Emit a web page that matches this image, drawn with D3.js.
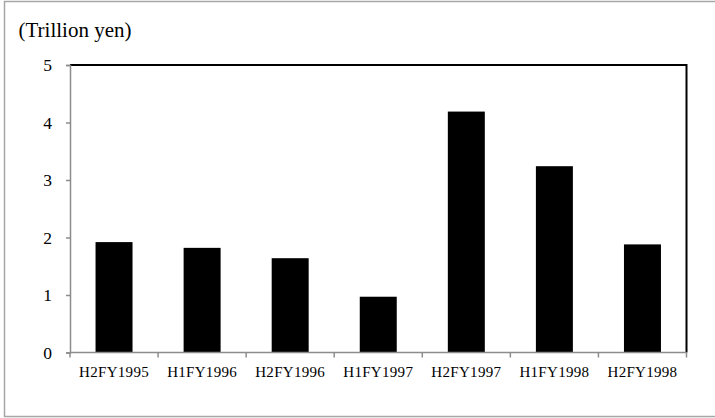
<!DOCTYPE html>
<html>
<head>
<meta charset="utf-8">
<script src="https://cdn.jsdelivr.net/npm/d3@7"></script>
<style>
    html, body { margin: 0; padding: 0; background: #fff; }
    svg { display: block; font-family: "Liberation Serif", "Times New Roman", serif; }
</style>
</head>
<body>
<svg id="chart"></svg>
<script>
// data
const periods = ['H2FY1995', 'H1FY1996', 'H2FY1996', 'H1FY1997', 'H2FY1997', 'H1FY1998', 'H2FY1998'];
const amounts = [1.92, 1.82, 1.64, 0.97, 4.19, 3.24, 1.88];
const yTicks = [0, 1, 2, 3, 4, 5];
const unitLabel = '(Trillion yen)';

const width = 715;
const height = 418;
const margin = {top: 65, right: 28, bottom: 65, left: 70};

const svg = d3.select('#chart')
    .attr('width', width)
    .attr('height', height);

// outer frame
svg.append('rect')
    .attr('x', 4.5)
    .attr('y', 1.5)
    .attr('width', width + 10)
    .attr('height', 415)
    .attr('fill', 'none')
    .attr('stroke', '#a6a6a6')
    .attr('stroke-width', 1.5);

const x = d3.scaleBand()
    .domain(periods)
    .range([margin.left, width - margin.right - 0.5])
    .paddingInner(0.58)
    .paddingOuter(0.29);

const y = d3.scaleLinear()
    .domain([0, 5])
    .range([height - margin.bottom - 0.5, margin.top]);

// bars
svg.append('g')
    .selectAll('rect')
    .data(periods)
    .join('rect')
    .attr('x', d => x(d))
    .attr('y', (d, i) => y(amounts[i]))
    .attr('width', x.bandwidth())
    .attr('height', (d, i) => y(0) - y(amounts[i]))
    .attr('fill', '#000');

// top and right border of the plot area
const x0 = margin.left, x1 = width - margin.right - 0.5;
svg.append('path')
    .attr('d', `M${x0},${y(5)}H${x1}V${y(0)}`)
    .attr('fill', 'none')
    .attr('stroke', '#000')
    .attr('stroke-width', 2);

// y axis
const yAxis = svg.append('g')
    .attr('transform', `translate(${x0},0)`)
    .call(d3.axisLeft(y).tickValues(yTicks).tickSize(4).tickPadding(14).tickFormat(d3.format('d')));
yAxis.select('.domain').attr('stroke', '#8c8c8c').attr('stroke-width', 1.5);
yAxis.selectAll('.tick line').attr('stroke', '#8c8c8c').attr('stroke-width', 1.5);
yAxis.selectAll('.tick text')
    .attr('font-size', 17.5)
    .attr('font-family', '"Liberation Serif", serif')
    .attr('fill', '#000');

// x axis: ticks at category boundaries
const xAxis = svg.append('g')
    .attr('transform', `translate(0,${y(0)})`)
    .call(d3.axisBottom(x).tickSize(0).tickPadding(13.5));
xAxis.select('.domain').remove();
xAxis.selectAll('.tick text')
    .attr('font-size', 15)
    .attr('font-family', '"Liberation Serif", serif')
    .attr('letter-spacing', 0.3)
    .attr('fill', '#000');

const step = x.step();
xAxis.append('path')
    .attr('d', `M${x0},0H${x1}`)
    .attr('stroke', '#8c8c8c')
    .attr('stroke-width', 1.5);
xAxis.selectAll('.boundary')
    .data(d3.range(periods.length + 1))
    .join('line')
    .attr('class', 'boundary')
    .attr('x1', i => x0 + i * step)
    .attr('x2', i => x0 + i * step)
    .attr('y1', 0)
    .attr('y2', 5)
    .attr('stroke', '#8c8c8c')
    .attr('stroke-width', 1.5);

// unit label
svg.append('text')
    .attr('x', 18.5)
    .attr('y', 37)
    .attr('font-size', 21)
    .attr('fill', '#000')
    .text(unitLabel);
</script>
</body>
</html>
